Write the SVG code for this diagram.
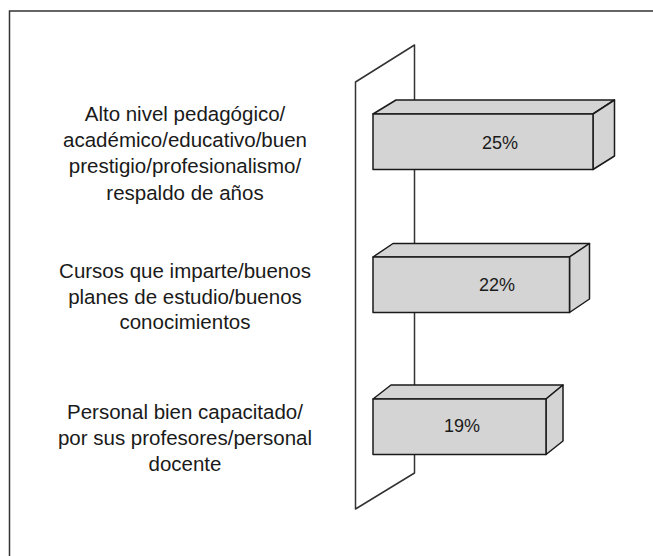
<svg xmlns="http://www.w3.org/2000/svg" width="653" height="556" viewBox="0 0 653 556">
<style>
.lbl{font-family:"Liberation Sans",Arial,sans-serif;font-size:20.5px;fill:#1a1a1a;text-anchor:middle}
.pct{font-family:"Liberation Sans",Arial,sans-serif;font-size:18px;fill:#1a1a1a;text-anchor:middle}
.face{fill:#d4d4d4;stroke:#1a1a1a;stroke-width:1.5;stroke-linejoin:round}
.side{fill:#d4d4d4;stroke:#1a1a1a;stroke-width:1.5;stroke-linejoin:round}
.ln{fill:none;stroke:#333;stroke-width:1.5}
</style>
<rect width="653" height="556" fill="#fff"/>
<g id="frame"><path class="ln" d="M9.5,556 V11 H653" stroke="#222" stroke-width="2"/></g>
<g id="panel"><path class="ln" d="M355.5,509 V82 L414.5,45 V473 Z" stroke-linejoin="round"/></g>
<g id="bar1">
<path class="side" d="M373,114 L396,100 H614.5 L593,114 Z"/>
<path class="side" d="M593,114 L614.5,100 V156 L593,169.5 Z"/>
<rect class="face" x="373" y="114" width="220" height="55.5"/>
<text class="pct" x="500" y="149">25%</text>
</g>
<g id="bar2">
<path class="side" d="M373,257 L393,243.5 H589.5 L569.5,257 Z"/>
<path class="side" d="M569.5,257 L589.5,243.5 V299 L569.5,312.5 Z"/>
<rect class="face" x="373" y="257" width="196.5" height="55.5"/>
<text class="pct" x="497" y="291">22%</text>
</g>
<g id="bar3">
<path class="side" d="M373,399 L391,385 H563 L546,399 Z"/>
<path class="side" d="M546,399 L563,385 V441 L546,454.5 Z"/>
<rect class="face" x="373" y="399" width="173" height="55.5"/>
<text class="pct" x="462" y="432">19%</text>
</g>
<g id="label1">
<text class="lbl" x="185" y="121">Alto nivel pedagógico/</text>
<text class="lbl" x="185" y="147">académico/educativo/buen</text>
<text class="lbl" x="185" y="173">prestigio/profesionalismo/</text>
<text class="lbl" x="185" y="200">respaldo de años</text>
</g>
<g id="label2">
<text class="lbl" x="185" y="278">Cursos que imparte/buenos</text>
<text class="lbl" x="185" y="304">planes de estudio/buenos</text>
<text class="lbl" x="185" y="329">conocimientos</text>
</g>
<g id="label3">
<text class="lbl" x="185" y="419">Personal bien capacitado/</text>
<text class="lbl" x="185" y="445">por sus profesores/personal</text>
<text class="lbl" x="185" y="471">docente</text>
</g>
</svg>
